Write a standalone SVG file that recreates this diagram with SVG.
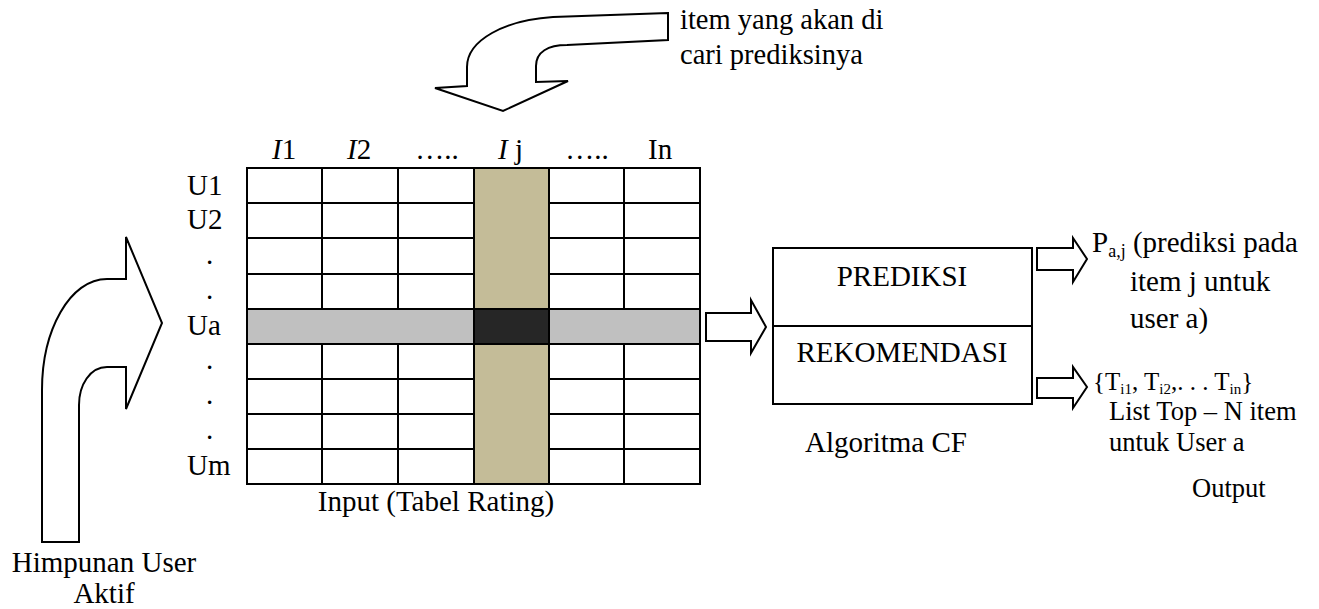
<svg xmlns="http://www.w3.org/2000/svg" width="1319" height="609" viewBox="0 0 1319 609">
<style>
text{font-family:"Liberation Serif","Times New Roman",serif;fill:#000;font-size:29px}
.md{font-size:26.5px}
.br{font-size:25px}
.note{font-size:28.5px}
.sub{font-size:18px}
.sub2{font-size:15px}
.arr{fill:#fff;stroke:#000;stroke-width:2;stroke-linejoin:miter}
.grid{stroke:#000;stroke-width:2;fill:none}
.box{fill:#fff;stroke:#000;stroke-width:2}
</style>
<rect width="1319" height="609" fill="#fff"/>

<g id="table">
  <g class="grid">
    <rect x="247" y="168" width="453" height="316"/>
    <path d="M322,168V484M398,168V484M474,168V484M549,168V484M624,168V484"/>
    <path d="M247,203H700M247,238H700M247,274H700M247,309H700M247,344H700M247,379H700M247,414H700M247,449H700"/>
  </g>
  <rect x="248" y="310" width="451" height="33" fill="#c0c0c0"/>
  <rect x="475" y="169" width="73" height="314" fill="#c4bc98"/>
  <rect x="475" y="310" width="73" height="33" fill="#262626"/>
  <path class="grid" d="M474,168V484M549,168V484M247,309H700M247,344H700M247,168V484M700,168V484"/>
</g>

<g id="col-headers">
  <text x="272" y="159"><tspan font-style="italic">I</tspan>1</text>
  <text x="347" y="159"><tspan font-style="italic">I</tspan>2</text>
  <text x="437" y="159" text-anchor="middle">…..</text>
  <text x="498" y="159"><tspan font-style="italic">I</tspan> j</text>
  <text x="587" y="159" text-anchor="middle">…..</text>
  <text x="648" y="159">In</text>
</g>

<g id="row-labels">
  <text x="187" y="195">U1</text>
  <text x="187" y="229">U2</text>
  <text x="206" y="264">.</text>
  <text x="206" y="299">.</text>
  <text x="187" y="335">Ua</text>
  <text x="206" y="369">.</text>
  <text x="206" y="404">.</text>
  <text x="206" y="439">.</text>
  <text x="187" y="475">Um</text>
</g>

<g id="table-caption">
  <text x="436" y="511" text-anchor="middle">Input (Tabel Rating)</text>
</g>

<g id="algo">
  <rect class="box" x="773" y="248" width="259" height="156"/>
  <path class="grid" d="M773,326H1032"/>
  <text x="902" y="286" text-anchor="middle">PREDIKSI</text>
  <text x="902" y="362" text-anchor="middle" font-size="28">REKOMENDASI</text>
  <text x="886" y="452" text-anchor="middle">Algoritma CF</text>
</g>

<g id="output">
  <text x="1092" y="252">P<tspan class="sub" dy="5">a,j</tspan><tspan dy="-5"> (prediksi pada</tspan></text>
  <text x="1130" y="291">item j untuk</text>
  <text x="1130" y="328">user a)</text>
  <text class="br" x="1093" y="390">{T<tspan class="sub2" dy="4">i1</tspan><tspan dy="-4">, T</tspan><tspan class="sub2" dy="4">i2</tspan><tspan dy="-4">,. . . T</tspan><tspan class="sub2" dy="4">in</tspan><tspan dy="-4">}</tspan></text>
  <text class="md" x="1109" y="420">List Top – N item</text>
  <text class="md" x="1109" y="451">untuk User a</text>
  <text class="md" x="1192" y="497">Output</text>
</g>

<g id="item-note">
  <text class="note" x="680" y="29">item yang akan di</text>
  <text class="note" x="680" y="64">cari prediksinya</text>
</g>

<g id="user-note">
  <text x="104" y="572" text-anchor="middle" font-size="26">Himpunan User</text>
  <text x="104" y="603" text-anchor="middle" font-size="26">Aktif</text>
</g>

<g id="connectors">
  <path class="arr" d="M668,13 L553,17 C505,20 467,40 467,67 L467,86 L435,88 L503,111 L568,81 L536,82 L536,66 C536,52 548,45 567,45 L668,40 Z"/>
  <path class="arr" d="M42,542 L42,390 C42,330 70,279 107,279 L126,279 L126,237 L162,323 L126,409 L126,367 L107,367 C90,367 79,385 79,405 L79,542 Z"/>
  <path class="arr" d="M706,313 L751,313 L751,300 L766,327 L751,353 L751,341 L706,341 Z"/>
  <path class="arr" d="M1037,248 L1073,248 L1073,238 L1087,259 L1073,282 L1073,270 L1037,270 Z"/>
  <path class="arr" d="M1037,378 L1073,378 L1073,367 L1087,387 L1073,408 L1073,398 L1037,398 Z"/>
</g>
</svg>
